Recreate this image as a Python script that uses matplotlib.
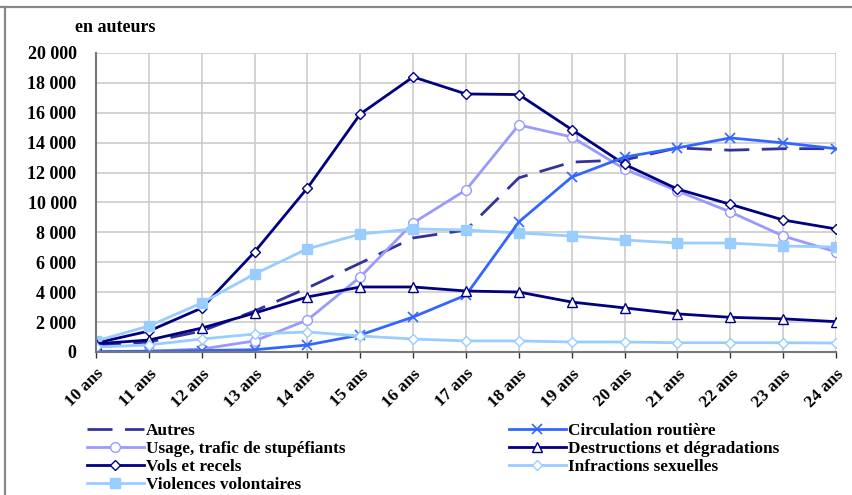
import matplotlib.pyplot as plt
from matplotlib.lines import Line2D
from matplotlib.ticker import FuncFormatter

plt.rcParams['font.family'] = ['Liberation Serif', 'DejaVu Serif']
plt.rcParams['font.weight'] = 'bold'

ages = ['10 ans', '11 ans', '12 ans', '13 ans', '14 ans', '15 ans', '16 ans', '17 ans',
        '18 ans', '19 ans', '20 ans', '21 ans', '22 ans', '23 ans', '24 ans']

autres = [400, 670, 1400, 2740, 4280, 5950, 7630, 8160, 11650, 12700, 12850, 13650, 13500, 13600, 13600]
circulation = [30, 50, 100, 150, 470, 1140, 2340, 3810, 8700, 11700, 13040, 13650, 14320, 13990, 13600]
stupefiants = [40, 50, 200, 740, 2140, 5020, 8630, 10840, 15190, 14380, 12240, 10770, 9370, 7760, 6700]
destructions = [550, 800, 1600, 2600, 3680, 4350, 4350, 4080, 4010, 3340, 2950, 2550, 2320, 2220, 2030]
vols = [600, 1400, 2940, 6690, 10970, 15920, 18400, 17260, 17220, 14880, 12550, 10900, 9880, 8830, 8230]
sexuelles = [330, 470, 870, 1200, 1340, 1070, 870, 740, 740, 670, 670, 620, 620, 620, 600]
violences = [740, 1740, 3280, 5220, 6900, 7890, 8230, 8160, 7960, 7760, 7490, 7290, 7290, 7090, 7020]

fig = plt.figure(figsize=(8.52, 4.95), dpi=100)
ax = fig.add_axes([96/852, 1-352/495, (836-96)/852, (352-53)/495])

x = list(range(len(ages)))
lw = 2.0
ax.plot(x, autres, color='#333399', lw=lw, dashes=(9, 4.5), label='Autres')
ax.plot(x, stupefiants, color='#9999FF', lw=lw, marker='o', ms=7, mfc='white', mec='#9999FF',
        label='Usage, trafic de stupéfiants')
ax.plot(x, vols, color='#000080', lw=lw, marker='D', ms=5, mfc='white', mec='#000080',
        label='Vols et recels')
ax.plot(x, violences, color='#99CCFF', lw=lw, marker='s', ms=7, mfc='#99CCFF', mec='#99CCFF',
        label='Violences volontaires')
ax.plot(x, circulation, color='#3366FF', lw=lw, marker='x', ms=7, mew=1.2,
        label='Circulation routière')
ax.plot(x, destructions, color='#000080', lw=lw, marker='^', ms=7, mfc='white', mec='#000080',
        label='Destructions et dégradations')
ax.plot(x, sexuelles, color='#99CCFF', lw=lw, marker='D', ms=5, mfc='white', mec='#99CCFF',
        label='Infractions sexuelles')

ax.set_xlim(0, len(ages)-1)
ax.set_ylim(0, 20000)
ax.set_yticks(range(0, 20001, 2000))
ax.yaxis.set_major_formatter(FuncFormatter(lambda v, p: f'{int(v):,}'.replace(',', ' ')))
ax.set_xticks(x)
ax.set_xticklabels(ages, rotation=45, ha='right', va='top', rotation_mode='anchor')
ax.tick_params(axis='y', length=0, pad=14, labelsize=13)
ax.tick_params(axis='x', length=4, width=1, color='#333333', pad=6, labelsize=12.5)
ax.grid(True, color='#cccccc', lw=1.2)
ax.set_axisbelow(True)
for s in ['top', 'right']:
    ax.spines[s].set_visible(False)
ax.spines['left'].set_color('#777777')
ax.spines['left'].set_linewidth(1.5)
ax.spines['bottom'].set_color('#777777')
ax.spines['bottom'].set_linewidth(1.5)
for lab in ax.get_xticklabels() + ax.get_yticklabels():
    lab.set_fontweight('bold')

fig.text(75/852, 1-27/495, 'en auteurs', fontsize=13, fontweight='bold', va='center')

handles, labels = ax.get_legend_handles_labels()
leg_kw = dict(loc='upper left', frameon=False, handlelength=3.3, handletextpad=0.15,
              labelspacing=0.12, prop={'size': 12.4, 'weight': 'bold'}, borderaxespad=0)
fig.legend(handles[:4], labels[:4], bbox_to_anchor=(80/852, 1-416/495), **leg_kw)
fig.legend(handles[4:], labels[4:], bbox_to_anchor=(502/852, 1-416/495), **leg_kw)

# outer frame (top and left edges)
fig.add_artist(Line2D([0, 1], [1-6.5/495, 1-6.5/495], transform=fig.transFigure, color='#888888', lw=1.6))
fig.add_artist(Line2D([4.5/852, 4.5/852], [0, 1-6.5/495], transform=fig.transFigure, color='#888888', lw=1.6))

fig.savefig('out.png', dpi=100)
